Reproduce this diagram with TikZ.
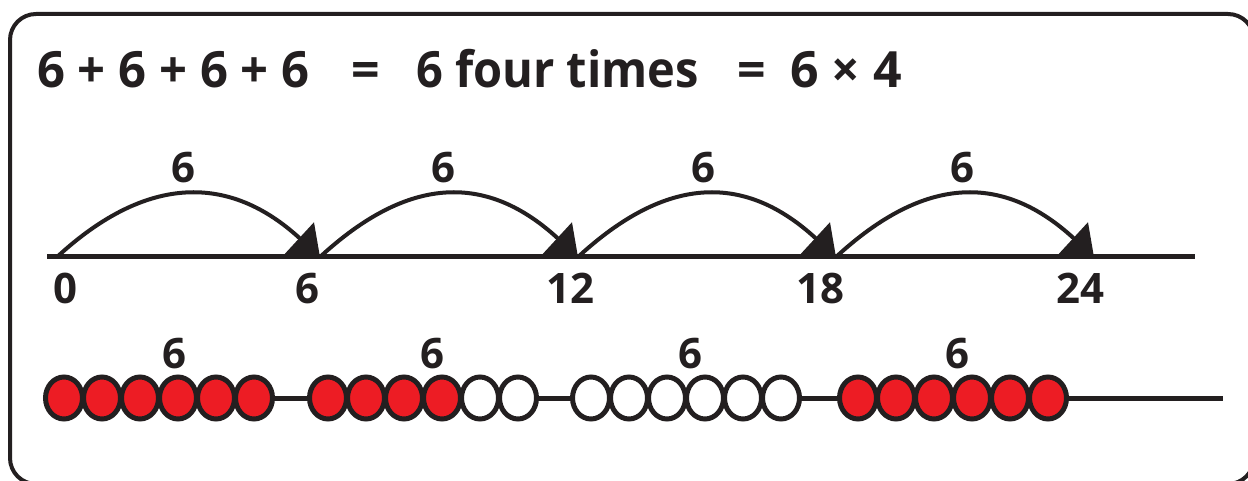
\documentclass[tikz,border=0pt]{standalone}
\usepackage{fontspec}
\setmainfont{Open Sans}
\usetikzlibrary{arrows.meta,shapes.geometric}
\definecolor{inkblack}{HTML}{231F20}
\definecolor{beadred}{HTML}{ED1C24}
\tikzset{
    big/.style={font=\fontsize{50}{56}\selectfont\bfseries, anchor=base west, inner sep=0pt, text=inkblack},
    num/.style={font=\fontsize{42}{48}\selectfont\bfseries, anchor=base, inner sep=0pt, text=inkblack},
    jump/.style={draw=inkblack, line width=4pt, -{Triangle[length=28pt,width=42pt]}},
    bead/.style={ellipse, draw=inkblack, line width=5pt, minimum width=37pt, minimum height=42pt, inner sep=0pt},
}
% one group of six beads: #1 group, #2 first centre, #3 red ones
\newcommand\BeadGroup[3]{%
    \foreach \i in {1,...,6} {
        \pgfmathsetmacro\bx{#2+38*(\i-1)}
        \ifnum\i>#3 \def\beadfill{white}\else\def\beadfill{beadred}\fi
        \node[bead, fill=\beadfill] (g#1b\i) at (\bx,398) {};
    }
}

\begin{document}
\begin{tikzpicture}[x=1pt,y=-1pt]
    \useasboundingbox (0,0) rectangle (1248,481);
    \draw[inkblack, line width=4pt, rounded corners=26pt] (10,14) rectangle (1254,484);

    % sum
    \node[big] (sum) at (37,88) {\scalebox{0.98}[1]{6 + 6 + 6 + 6}};
    \node[big] (eqa) at (351,88) {=};
    \node[big] (words) at (416,88) {\scalebox{0.94}[1]{6 four times}};
    \node[big] (eqb) at (737,88) {=};
    \node[big] (prod) at (790,88) {6 × 4};

    % number line
    \coordinate (P0) at (57,257);
    \coordinate (P1) at (320,257);
    \coordinate (P2) at (578,257);
    \coordinate (P3) at (836,257);
    \coordinate (P4) at (1094,257);
    \draw[inkblack, line width=5pt] (47,257) coordinate(LineStart) -- (1195,257) coordinate(LineEnd);
    \foreach \a/\b in {P0/P1,P1/P2,P2/P3,P3/P4}
        \draw[jump] (\a) .. controls +(90,-83) and +(-90,-83) .. (\b);
    \foreach \x [count=\k] in {183,443,703,962}
        \node[num] (step\k) at (\x,183) {6};
    \foreach \x/\t in {65/0,307/6,570/12,820/18,1080/24}
        \node[num] (tick\t) at (\x,303) {\t};

    % beads
    \draw[inkblack, line width=5pt] (64,398) coordinate(BeadStart) -- (1223,398) coordinate(BeadEnd);
    \BeadGroup{1}{64}{6}
    \BeadGroup{2}{328}{4}
    \BeadGroup{3}{591}{0}
    \BeadGroup{4}{858}{6}
    \foreach \x [count=\k] in {174,432,690,957}
        \node[num] (count\k) at (\x,368) {6};
\end{tikzpicture}
\end{document}
